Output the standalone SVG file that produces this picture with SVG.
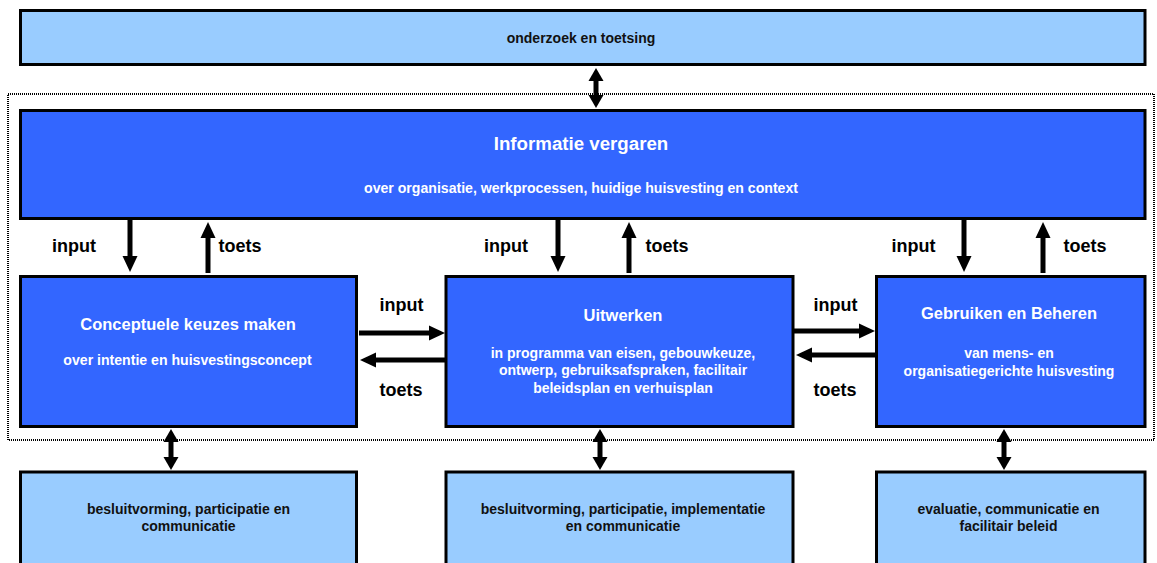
<svg xmlns="http://www.w3.org/2000/svg" width="1157" height="563" viewBox="0 0 1157 563">
<defs>
<style>
.lb{fill:#99CCFF;stroke:#000;stroke-width:3}
.db{fill:#3366FF;stroke:#000;stroke-width:3}
.t{font-family:"Liberation Sans",Arial,sans-serif;font-weight:bold;text-anchor:middle}
.w{fill:#fff}
.k{fill:#111}
.lab{font-family:"Liberation Sans",Arial,sans-serif;font-weight:bold;font-size:18px;fill:#000;text-anchor:middle}
.ar{stroke:#000;stroke-width:5;fill:none}
</style>
<marker id="h" markerUnits="userSpaceOnUse" viewBox="0 0 16 16" markerWidth="16" markerHeight="16" refX="1" refY="8" orient="auto-start-reverse">
<path d="M0,0.5 L16,8 L0,15.5 Z" fill="#000"/>
</marker>
<marker id="d" markerUnits="userSpaceOnUse" viewBox="0 0 13 16" markerWidth="13" markerHeight="16" refX="1" refY="8" orient="auto-start-reverse">
<path d="M0,0.5 L13,8 L0,15.5 Z" fill="#000"/>
</marker>
</defs>
<rect x="0" y="0" width="1157" height="563" fill="#fff"/>
<rect id="frame" x="8" y="94" width="1146" height="346" fill="none" stroke="#000" stroke-width="2" stroke-dasharray="1 1"/>

<g id="onderzoek">
<rect class="lb" x="20.5" y="10.5" width="1124.5" height="54"/>
<text class="t k" x="581" y="42.5" font-size="14">onderzoek en toetsing</text>
</g>

<g id="informatie">
<rect class="db" x="20.5" y="110.5" width="1124.5" height="108"/>
<text class="t w" x="581" y="150" font-size="18.7">Informatie vergaren</text>
<text class="t w" x="581" y="193" font-size="14.1">over organisatie, werkprocessen, huidige huisvesting en context</text>
</g>

<g id="conceptuele">
<rect class="db" x="20.5" y="276.5" width="336" height="150"/>
<text class="t w" x="188" y="329.5" font-size="16.5">Conceptuele keuzes maken</text>
<text class="t w" x="187.5" y="365" font-size="14.1">over intentie en huisvestingsconcept</text>
</g>

<g id="uitwerken">
<rect class="db" x="446" y="276.5" width="347" height="150"/>
<text class="t w" x="623" y="320.5" font-size="16.5">Uitwerken</text>
<text class="t w" x="623" y="357.5" font-size="14">in programma van eisen, gebouwkeuze,</text>
<text class="t w" x="623" y="375" font-size="14">ontwerp, gebruiksafspraken, facilitair</text>
<text class="t w" x="623" y="392.5" font-size="14">beleidsplan en verhuisplan</text>
</g>

<g id="gebruiken">
<rect class="db" x="876.5" y="276.5" width="268.5" height="150"/>
<text class="t w" x="1009" y="319" font-size="16.5">Gebruiken en Beheren</text>
<text class="t w" x="1009" y="357.5" font-size="14">van mens- en</text>
<text class="t w" x="1009" y="375.5" font-size="14">organisatiegerichte huisvesting</text>
</g>

<g id="besluit1">
<rect class="lb" x="20.5" y="472" width="336" height="110"/>
<text class="t k" x="188.5" y="514" font-size="14">besluitvorming, participatie en</text>
<text class="t k" x="188.5" y="531" font-size="14">communicatie</text>
</g>

<g id="besluit2">
<rect class="lb" x="446" y="472" width="347" height="110"/>
<text class="t k" x="623" y="514" font-size="14">besluitvorming, participatie, implementatie</text>
<text class="t k" x="623" y="531" font-size="14">en communicatie</text>
</g>

<g id="evaluatie">
<rect class="lb" x="876.5" y="472" width="268.5" height="110"/>
<text class="t k" x="1008.5" y="514" font-size="14">evaluatie, communicatie en</text>
<text class="t k" x="1008.5" y="531" font-size="14">facilitair beleid</text>
</g>

<g id="connectors">
<line class="ar" x1="596" y1="80" x2="596" y2="96" marker-start="url(#d)" marker-end="url(#d)"/>
<line class="ar" x1="171" y1="441" x2="171" y2="458" marker-start="url(#d)" marker-end="url(#d)"/>
<line class="ar" x1="600" y1="441" x2="600" y2="458" marker-start="url(#d)" marker-end="url(#d)"/>
<line class="ar" x1="1004" y1="441" x2="1004" y2="458" marker-start="url(#d)" marker-end="url(#d)"/>

<line class="ar" x1="130" y1="220" x2="130" y2="257" marker-end="url(#h)"/>
<line class="ar" x1="558" y1="220" x2="558" y2="257" marker-end="url(#h)"/>
<line class="ar" x1="964" y1="220" x2="964" y2="257" marker-end="url(#h)"/>

<line class="ar" x1="208" y1="273" x2="208" y2="237" marker-end="url(#h)"/>
<line class="ar" x1="629" y1="273" x2="629" y2="237" marker-end="url(#h)"/>
<line class="ar" x1="1043" y1="273" x2="1043" y2="237" marker-end="url(#h)"/>

<line class="ar" x1="359" y1="333" x2="430" y2="333" marker-end="url(#h)"/>
<line class="ar" x1="445" y1="360" x2="375" y2="360" marker-end="url(#h)"/>
<line class="ar" x1="794" y1="331" x2="860" y2="331" marker-end="url(#h)"/>
<line class="ar" x1="876" y1="355" x2="811" y2="355" marker-end="url(#h)"/>
</g>

<g id="labels">
<text class="lab" x="74" y="252">input</text>
<text class="lab" x="240" y="252">toets</text>
<text class="lab" x="506" y="252">input</text>
<text class="lab" x="667" y="252">toets</text>
<text class="lab" x="913.5" y="252">input</text>
<text class="lab" x="1085" y="252">toets</text>
<text class="lab" x="401.5" y="311">input</text>
<text class="lab" x="401" y="396">toets</text>
<text class="lab" x="835.5" y="311">input</text>
<text class="lab" x="835" y="396">toets</text>
</g>
</svg>
